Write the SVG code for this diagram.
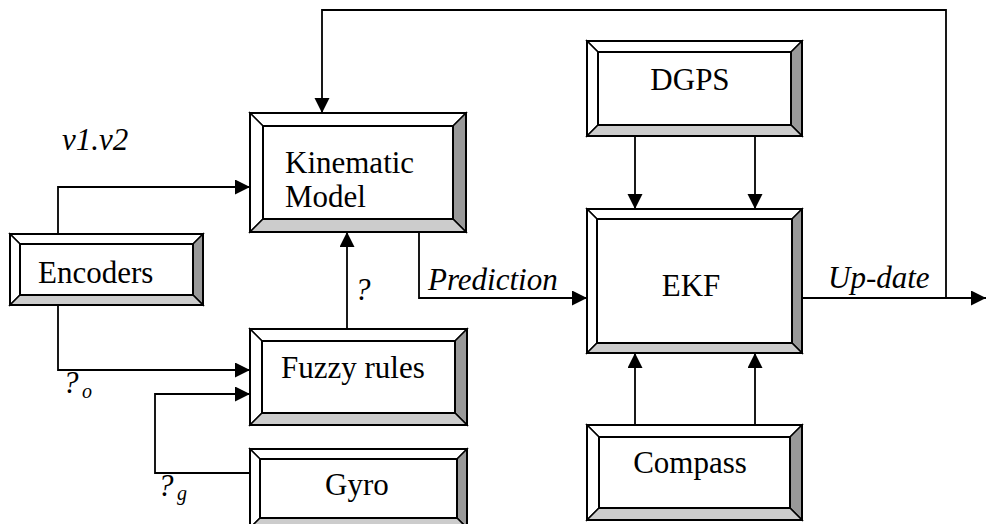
<svg xmlns="http://www.w3.org/2000/svg" width="986" height="524" viewBox="0 0 986 524">
<defs>
<style>
.o{fill:none;stroke:#000;stroke-width:2}
.in{fill:#fff;stroke:#000;stroke-width:2}
.w{fill:#fff;stroke:#000;stroke-width:1.5;stroke-linejoin:miter}
.d{fill:#999;stroke:#000;stroke-width:1.5}
.l{fill:#ccc;stroke:#000;stroke-width:1.5}
.t{font-family:"Liberation Serif","Times New Roman",serif;font-size:31px;fill:#000}
.i{font-family:"Liberation Serif","Times New Roman",serif;font-size:31px;font-style:italic;fill:#000}
.s{font-size:20px}
.c{fill:none;stroke:#000;stroke-width:1.8}
</style>
<marker id="ah" markerUnits="userSpaceOnUse" markerWidth="16" markerHeight="16" refX="15" refY="7.5" orient="auto">
<path d="M0,0 L15,7.5 L0,15 Z" fill="#000"/>
</marker>
</defs>
<rect width="986" height="524" fill="#fff"/>

<g id="connectors">
<polyline class="c" points="946,298 946,10 322,10 322,113" marker-end="url(#ah)"/>
<polyline class="c" points="802,298 986,298" marker-end="url(#ah)"/>
<polyline class="c" points="58,234 58,187 250,187" marker-end="url(#ah)"/>
<polyline class="c" points="58,305 58,370 250,370" marker-end="url(#ah)"/>
<polyline class="c" points="250,473 155,473 155,394 250,394" marker-end="url(#ah)"/>
<polyline class="c" points="347,329 347,232" marker-end="url(#ah)"/>
<polyline class="c" points="419,232 419,298 587,298" marker-end="url(#ah)"/>
<polyline class="c" points="635,136 635,209" marker-end="url(#ah)"/>
<polyline class="c" points="755,136 755,209" marker-end="url(#ah)"/>
<polyline class="c" points="635,425 635,353" marker-end="url(#ah)"/>
<polyline class="c" points="755,425 755,353" marker-end="url(#ah)"/>
<text class="i" x="62" y="150">v1.v2</text>
<text class="i" x="63" y="393">?<tspan class="s" x="82" y="398">o</tspan></text>
<text class="i" x="158" y="496">?<tspan class="s" x="177" y="500">g</tspan></text>
<text class="i" x="355" y="300">?</text>
<text class="i" x="428" y="290">Prediction</text>
<text class="i" x="828" y="288">Up-date</text>
</g>

<g id="encoders">
<polygon class="w" points="10,234 203,234 193,244 20,244"/>
<polygon class="w" points="10,234 20,244 20,295 10,305"/>
<polygon class="d" points="203,234 203,305 193,295 193,244"/>
<polygon class="l" points="10,305 20,295 193,295 203,305"/>
<rect class="in" x="20" y="244" width="173" height="51"/>
<rect class="o" x="10" y="234" width="193" height="71"/>
<text class="t" x="38" y="283">Encoders</text>
</g>

<g id="kinematic">
<polygon class="w" points="250,113 466,113 453,126 263,126"/>
<polygon class="w" points="250,113 263,126 263,219 250,232"/>
<polygon class="d" points="466,113 466,232 453,219 453,126"/>
<polygon class="l" points="250,232 263,219 453,219 466,232"/>
<rect class="in" x="263" y="126" width="190" height="93"/>
<rect class="o" x="250" y="113" width="216" height="119"/>
<text class="t" x="285" y="173">Kinematic</text>
<text class="t" x="285" y="207">Model</text>
</g>

<g id="fuzzy">
<polygon class="w" points="250,329 467,329 455,341 262,341"/>
<polygon class="w" points="250,329 262,341 262,413 250,425"/>
<polygon class="d" points="467,329 467,425 455,413 455,341"/>
<polygon class="l" points="250,425 262,413 455,413 467,425"/>
<rect class="in" x="262" y="341" width="193" height="72"/>
<rect class="o" x="250" y="329" width="217" height="96"/>
<text class="t" x="281" y="378">Fuzzy rules</text>
</g>

<g id="gyro">
<polygon class="w" points="250,449 467,449 457,459 260,459"/>
<polygon class="w" points="250,449 260,459 260,518 250,528"/>
<polygon class="d" points="467,449 467,528 457,518 457,459"/>
<polygon class="l" points="250,528 260,518 457,518 467,528"/>
<rect class="in" x="260" y="459" width="197" height="59"/>
<rect class="o" x="250" y="449" width="217" height="79"/>
<text class="t" x="325" y="495">Gyro</text>
</g>

<g id="dgps">
<polygon class="w" points="587,41 802,41 791,52 598,52"/>
<polygon class="w" points="587,41 598,52 598,125 587,136"/>
<polygon class="d" points="802,41 802,136 791,125 791,52"/>
<polygon class="l" points="587,136 598,125 791,125 802,136"/>
<rect class="in" x="598" y="52" width="193" height="73"/>
<rect class="o" x="587" y="41" width="215" height="95"/>
<text class="t" x="690" y="90" text-anchor="middle">DGPS</text>
</g>

<g id="ekf">
<polygon class="w" points="587,209 802,209 792,219 597,219"/>
<polygon class="w" points="587,209 597,219 597,343 587,353"/>
<polygon class="d" points="802,209 802,353 792,343 792,219"/>
<polygon class="l" points="587,353 597,343 792,343 802,353"/>
<rect class="in" x="597" y="219" width="195" height="124"/>
<rect class="o" x="587" y="209" width="215" height="144"/>
<text class="t" x="691" y="296" text-anchor="middle">EKF</text>
</g>

<g id="compass">
<polygon class="w" points="587,425 802,425 790,437 599,437"/>
<polygon class="w" points="587,425 599,437 599,508 587,520"/>
<polygon class="d" points="802,425 802,520 790,508 790,437"/>
<polygon class="l" points="587,520 599,508 790,508 802,520"/>
<rect class="in" x="599" y="437" width="191" height="71"/>
<rect class="o" x="587" y="425" width="215" height="95"/>
<text class="t" x="690" y="473" text-anchor="middle">Compass</text>
</g>
</svg>
